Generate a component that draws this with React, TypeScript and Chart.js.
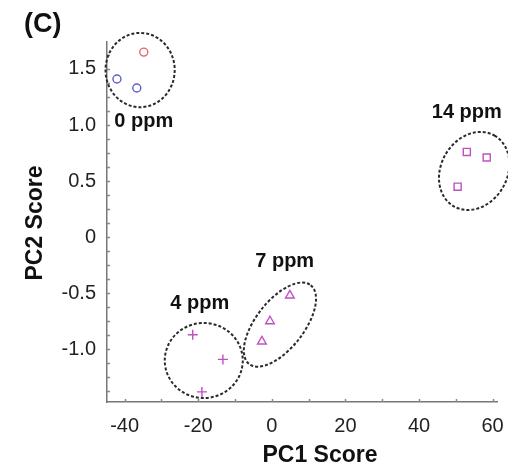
import React, { useEffect, useRef } from "react";
import { Chart, registerables } from "chart.js";

Chart.register(...registerables);

// ---- data ----
const ppm0RedX = [-34.8];
const ppm0RedY = [1.65];
const ppm0BlueX = [-42.1, -36.7];
const ppm0BlueY = [1.41, 1.33];
const ppm4X = [-21.5, -13.3, -19.0];
const ppm4Y = [-0.87, -1.09, -1.38];
const ppm7X = [4.9, -0.5, -2.7];
const ppm7Y = [-0.52, -0.75, -0.93];
const ppm14X = [53.0, 58.4, 50.5];
const ppm14Y = [0.76, 0.71, 0.45];

// group ellipses (centre in data units, semi-axes in PC1 units, rotation in degrees)
const groupNames = ["0 ppm", "14 ppm", "4 ppm", "7 ppm"];
const ellipseCx = [-35.8, 55.0, -18.5, 2.2];
const ellipseCy = [1.49, 0.59, -1.10, -0.78];
const ellipseA = [9.4, 11.1, 10.6, 13.6];
const ellipseB = [10.1, 9.0, 10.2, 6.5];
const ellipseRot = [0, -60, 0, -52];
const labelX = [-34.8, 53.0, -19.6, 3.5];
const labelY = [1.03, 1.11, -0.59, -0.22];

const xMin = -44.8, xMax = 61.2, xStep = 10;
const yMin = -1.47, yMax = 1.74, yStep = 0.125;

const panelLabel = "(C)";
const xTitle = "PC1 Score";
const yTitle = "PC2 Score";

const toPts = (xs: number[], ys: number[]) => xs.map((x, i) => ({ x, y: ys[i] }));

const annotPlugin = {
  id: "annot",
  afterDatasetsDraw(chart: any) {
    const { ctx, chartArea } = chart;
    const xs = chart.scales.x;
    const ys = chart.scales.y;
    const pxPerX = Math.abs(xs.getPixelForValue(1) - xs.getPixelForValue(0));
    ctx.save();
    // inner tick marks
    ctx.strokeStyle = "#888";
    ctx.lineWidth = 1.5;
    ctx.beginPath();
    for (const t of xs.ticks) {
      const px = Math.round(xs.getPixelForValue(t.value)) + 0.5;
      ctx.moveTo(px, chartArea.bottom);
      ctx.lineTo(px, chartArea.bottom - 3);
    }
    for (const t of ys.ticks) {
      const py = Math.round(ys.getPixelForValue(t.value)) + 0.5;
      ctx.moveTo(chartArea.left, py);
      ctx.lineTo(chartArea.left + 3, py);
    }
    ctx.stroke();
    // ellipses
    ctx.strokeStyle = "#2a2a2a";
    ctx.lineWidth = 2;
    ctx.setLineDash([3, 2]);
    for (let i = 0; i < ellipseCx.length; i++) {
      ctx.beginPath();
      ctx.ellipse(
        xs.getPixelForValue(ellipseCx[i]),
        ys.getPixelForValue(ellipseCy[i]),
        ellipseA[i] * pxPerX,
        ellipseB[i] * pxPerX,
        (ellipseRot[i] * Math.PI) / 180,
        0,
        Math.PI * 2
      );
      ctx.stroke();
    }
    ctx.setLineDash([]);
    ctx.fillStyle = "#111";
    ctx.textAlign = "center";
    ctx.textBaseline = "middle";
    ctx.font = "bold 20px 'Liberation Sans', Arial, sans-serif";
    for (let i = 0; i < groupNames.length; i++) {
      ctx.fillText(groupNames[i], xs.getPixelForValue(labelX[i]), ys.getPixelForValue(labelY[i]));
    }
    // panel label and axis titles
    ctx.font = "bold 27px 'Liberation Sans', Arial, sans-serif";
    ctx.textAlign = "left";
    ctx.fillText(panelLabel, 24, 25);
    ctx.font = "bold 23px 'Liberation Sans', Arial, sans-serif";
    ctx.textAlign = "center";
    ctx.fillText(xTitle, 320, 456);
    ctx.translate(36, 223);
    ctx.rotate(-Math.PI / 2);
    ctx.fillText(yTitle, 0, 0);
    ctx.restore();
  },
};

export default function App() {
  const ref = useRef<HTMLCanvasElement>(null);
  useEffect(() => {
    document.body.style.margin = "0";
    const tickFont = { family: "'Liberation Sans', Arial, sans-serif", size: 20 };
    const chart = new Chart(ref.current!, {
      type: "scatter",
      data: {
        datasets: [
          { data: toPts(ppm0RedX, ppm0RedY), pointStyle: "circle", radius: 4, borderColor: "#e26a6a", backgroundColor: "rgba(0,0,0,0)", borderWidth: 1.4 },
          { data: toPts(ppm0BlueX, ppm0BlueY), pointStyle: "circle", radius: 4, borderColor: "#5e5ec8", backgroundColor: "rgba(0,0,0,0)", borderWidth: 1.4 },
          { data: toPts(ppm4X, ppm4Y), pointStyle: "cross", radius: 5, borderColor: "#c050c0", backgroundColor: "rgba(0,0,0,0)", borderWidth: 1.4 },
          { data: toPts(ppm7X, ppm7Y), pointStyle: "triangle", radius: 5, borderColor: "#c050c0", backgroundColor: "rgba(0,0,0,0)", borderWidth: 1.4 },
          { data: toPts(ppm14X, ppm14Y), pointStyle: "rect", radius: 5, borderColor: "#c050c0", backgroundColor: "rgba(0,0,0,0)", borderWidth: 1.4 },
        ],
      },
      options: {
        animation: false,
        responsive: true,
        maintainAspectRatio: false,
        layout: { padding: { top: 42, right: 11, left: 0, bottom: 0 } },
        plugins: { legend: { display: false }, tooltip: { enabled: false } },
        scales: {
          x: {
            type: "linear",
            min: xMin,
            max: xMax,
            afterFit: (s: any) => { s.height = 69; s.paddingLeft = 0; s.paddingRight = 0; },
            border: { display: true, color: "#777", width: 1.5 },
            grid: { drawOnChartArea: false, drawTicks: false, tickLength: 0 },
            ticks: {
              stepSize: xStep,
              includeBounds: false,
              autoSkip: false,
              maxRotation: 0,
              padding: 12,
              color: "#222",
              font: tickFont,
              callback: (v: any) => (Math.abs(v % 20) < 1e-6 ? String(v) : ""),
            },
          },
          y: {
            type: "linear",
            min: yMin,
            max: yMax,
            afterFit: (s: any) => { s.width = 107; s.paddingTop = 0; s.paddingBottom = 0; },
            border: { display: true, color: "#777", width: 1.5 },
            grid: { drawOnChartArea: false, drawTicks: false, tickLength: 0 },
            ticks: {
              stepSize: yStep,
              includeBounds: false,
              autoSkip: false,
              maxTicksLimit: 1000,
              padding: 11,
              color: "#222",
              font: tickFont,
              callback: (v: any) => {
                const n = Number(v);
                if (Math.abs(n * 2 - Math.round(n * 2)) > 1e-6) return "";
                if (Math.abs(n) < 1e-9) return "0";
                return n.toFixed(1);
              },
            },
          },
        },
      },
      plugins: [annotPlugin],
    });
    return () => chart.destroy();
  }, []);
  return (
    <div style={{ position: "absolute", left: 0, top: 0, width: 508, height: 471 }}>
      <canvas ref={ref} />
    </div>
  );
}
